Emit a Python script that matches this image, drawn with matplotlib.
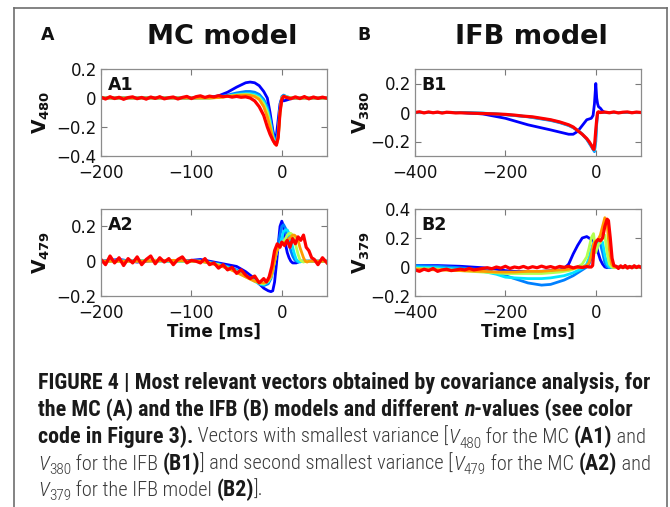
import matplotlib
matplotlib.use('Agg')
import matplotlib.pyplot as plt
from matplotlib.lines import Line2D
from matplotlib.font_manager import FontProperties
from matplotlib import font_manager as fm

plt.rcParams['font.family'] = ['DejaVu Sans']
plt.rcParams['mathtext.fontset'] = 'dejavusans'

W, H = 670, 507

# ---------------- data ----------------
colors = ['#0000ff', '#0080ff', '#00e5ff', '#b4ff50', '#ff9a00', '#ff0000']

# Panel A1 (MC, V480)
tA1 = [-200, -150, -100, -80, -70, -60, -50, -40, -35, -30, -25, -20, -16, -13, -10, -8, -6, -4, -2, 0, 2, 5, 10, 20, 30, 50]
blue_A1 = [0.0, 0.002, 0.0, 0.005, 0.015, 0.04, 0.075, 0.105, 0.11, 0.105, 0.085, 0.045, 0.0, -0.1, -0.22, -0.28, -0.26, -0.15, -0.04, 0.0, -0.02, -0.015, -0.005, 0.0, 0.0, 0.0]
azure_A1 = [0.0, 0.0, 0.0, 0.002, 0.008, 0.02, 0.035, 0.045, 0.045, 0.04, 0.025, -0.01, -0.06, -0.14, -0.24, -0.29, -0.3, -0.22, -0.07, 0.01, 0.02, 0.01, 0.0, 0.0, 0.0, 0.0]
cyan_A1 = [0.0, 0.0, 0.0, 0.0, 0.005, 0.015, 0.025, 0.03, 0.03, 0.025, 0.01, -0.025, -0.08, -0.16, -0.26, -0.3, -0.31, -0.25, -0.09, 0.0, 0.015, 0.01, 0.0, 0.0, 0.0, 0.0]
lime_A1 = [0.0, 0.0, 0.0, 0.0, 0.004, 0.012, 0.02, 0.025, 0.022, 0.015, 0.0, -0.04, -0.1, -0.18, -0.27, -0.31, -0.32, -0.27, -0.1, 0.0, 0.012, 0.008, 0.0, 0.0, 0.0, 0.0]
orange_A1 = [0.0, 0.0, 0.0, 0.0, 0.003, 0.01, 0.018, 0.02, 0.018, 0.01, -0.01, -0.06, -0.13, -0.2, -0.28, -0.315, -0.325, -0.28, -0.1, 0.0, 0.01, 0.005, 0.0, 0.0, 0.0, 0.0]
tR_A1 = [-200, -195, -190, -185, -180, -175, -170, -165, -160, -155, -150, -145, -140, -135, -130, -125, -120, -115, -110, -105,
         -100, -95, -90, -85, -80, -75, -70, -65, -60, -55, -50, -45, -40, -35, -30,
         -25, -20, -16, -13, -10, -8, -6, -4, -2, 0, 2, 5, 10, 15, 20, 25, 30, 35, 40, 45, 50]
red_A1 = [0.006, -0.007, 0.009, -0.004, 0.005, -0.009, 0.003, 0.008, -0.005, 0.004, -0.008, 0.007, -0.003, 0.009, -0.006, 0.002, 0.007, -0.007, 0.004, 0.011,
          -0.004, 0.009, 0.015, 0.004, 0.013, 0.007, 0.016, 0.009, 0.013, 0.006, 0.011, 0.005, 0.008, 0.0, -0.02,
          -0.06, -0.12, -0.2, -0.25, -0.29, -0.31, -0.325, -0.27, -0.1, -0.01, 0.012, 0.004, -0.005, 0.008, -0.004, 0.01, -0.006, 0.007, -0.003, 0.006, -0.002]

# Panel A2 (MC, V479)
tA2 = [-200, -180, -160, -140, -120, -100, -90, -80, -70, -60, -50, -40, -30, -25, -20, -15, -12, -10, -8, -6, -4, -2,
       0, 2, 4, 6, 8, 10, 12, 14, 16, 18, 20, 22, 24, 26, 28, 30, 32, 35, 40, 45, 50]
blue_A2 = [0.0, 0.01, -0.005, 0.005, 0.0, 0.005, 0.01, 0.0, -0.01, -0.02, -0.03, -0.06, -0.1,
           -0.13, -0.155, -0.17, -0.175, -0.17, -0.12, -0.02, 0.09, 0.2,
           0.23, 0.2, 0.1, 0.05, 0.02, 0.0, -0.01, -0.01, -0.01, -0.005, 0.0, 0.0, 0.0, 0.0, 0.0, 0.0, 0.0, 0.0, 0.0, 0.0, 0.0]
azure_A2 = [0.0, 0.005, 0.0, 0.005, 0.0, 0.0, 0.0, -0.005, -0.015, -0.03, -0.05, -0.08, -0.11,
            -0.13, -0.14, -0.13, -0.1, -0.06, 0.0, 0.06, 0.1, 0.15,
            0.2, 0.21, 0.19, 0.15, 0.1, 0.06, 0.03, 0.01, 0.0, -0.005, 0.0, 0.0, 0.0, 0.0, 0.0, 0.0, 0.0, 0.0, 0.0, 0.0, 0.0]
cyan_A2 = [0.0, 0.0, 0.005, 0.0, 0.0, 0.0, 0.0, -0.01, -0.02, -0.035, -0.055, -0.085, -0.115,
           -0.13, -0.135, -0.12, -0.09, -0.05, 0.0, 0.05, 0.08, 0.1,
           0.13, 0.17, 0.18, 0.18, 0.16, 0.12, 0.08, 0.04, 0.01, 0.0, -0.005, 0.0, 0.0, 0.0, 0.0, 0.0, 0.0, 0.0, 0.0, 0.0, 0.0]
lime_A2 = [0.0, 0.0, 0.0, 0.005, 0.0, 0.0, 0.0, -0.01, -0.02, -0.04, -0.06, -0.09, -0.115,
           -0.125, -0.13, -0.115, -0.09, -0.05, 0.0, 0.05, 0.08, 0.09,
           0.1, 0.11, 0.13, 0.15, 0.16, 0.16, 0.15, 0.12, 0.08, 0.04, 0.01, 0.0, -0.005, 0.0, 0.0, 0.0, 0.0, 0.0, 0.0, 0.0, 0.0]
orange_A2 = [0.0, 0.0, 0.0, 0.0, 0.005, 0.0, 0.0, -0.01, -0.025, -0.04, -0.065, -0.09, -0.115,
             -0.12, -0.125, -0.11, -0.085, -0.05, 0.0, 0.05, 0.08, 0.09,
             0.1, 0.1, 0.11, 0.12, 0.13, 0.14, 0.15, 0.15, 0.14, 0.12, 0.08, 0.05, 0.02, 0.0, -0.005, 0.0, 0.0, 0.0, 0.0, 0.0, 0.0]
tR_A2 = [-200, -195, -190, -185, -180, -175, -170, -165, -160, -155, -150, -145, -140, -135, -130, -125, -120, -115, -110, -105, -100,
         -95, -90, -85, -80, -75, -70, -65, -60, -55, -50, -45, -40, -35, -30, -25, -20,
         -17, -14, -11, -8, -5, -2, 0, 3, 6, 9, 12, 15, 18, 21, 24, 27, 30, 33, 36, 40, 45, 50]
red_A2 = [0.01, -0.02, 0.03, -0.01, 0.02, -0.025, 0.015, -0.01, 0.025, -0.02, 0.01, 0.03, -0.015, 0.02, -0.005, 0.015, -0.02, 0.01, 0.025, -0.01, 0.005,
          0.0, -0.01, 0.015, -0.02, -0.01, -0.04, -0.02, -0.05, -0.035, -0.07, -0.05, -0.08, -0.1, -0.085, -0.125, -0.1,
          -0.12, -0.09, -0.03, 0.06, 0.1, 0.08, 0.11, 0.09, 0.12, 0.08, 0.13, 0.1, 0.14, 0.12, 0.15, 0.08, 0.06, 0.02, 0.01, -0.02, 0.02, -0.01]

# Panel B1 (IFB, V380)
tB1 = [-400, -350, -300, -250, -200, -150, -100, -80, -60, -50, -40, -30, -20, -15, -10, -6, -3, 0, 2, 4, 6, 10, 15, 20, 40, 70, 100]
blue_B1 = [0.0, 0.0, 0.0, -0.01, -0.04, -0.085, -0.12, -0.135, -0.15, -0.15, -0.13, -0.09, -0.05, -0.045, -0.04, -0.02, 0.06,
           0.2, 0.1, 0.06, 0.04, 0.03, 0.01, 0.0, 0.0, 0.0, 0.0]
azure_B1 = [0.0, 0.0, 0.0, -0.005, -0.015, -0.03, -0.055, -0.07, -0.09, -0.105, -0.125, -0.15, -0.185, -0.21, -0.235, -0.255, -0.27,
            -0.2, -0.08, -0.01, 0.0, 0.0, 0.0, 0.0, 0.0, 0.0, 0.0]
cyan_B1 = [0.0, 0.0, 0.0, -0.004, -0.014, -0.028, -0.052, -0.067, -0.088, -0.103, -0.123, -0.148, -0.182, -0.205, -0.23, -0.25, -0.262,
           -0.16, -0.05, -0.005, 0.0, 0.0, 0.0, 0.0, 0.0, 0.0, 0.0]
tR_B1 = [-400, -390, -380, -370, -360, -350, -340, -330, -320, -310, -300,
         -280, -260, -240, -220, -200, -180, -160, -140, -120, -100, -80, -60,
         -50, -40, -30, -20, -15, -10, -6, -4, -2, 0, 2, 4, 6, 10,
         20, 30, 40, 50, 60, 70, 80, 90, 100]
red_B1 = [0.0, 0.005, -0.003, 0.004, -0.002, 0.003, -0.004, 0.002, 0.0, -0.003, -0.002,
          -0.004, -0.006, -0.008, -0.01, -0.013, -0.018, -0.025, -0.03, -0.04, -0.05, -0.065, -0.085,
          -0.1, -0.125, -0.15, -0.18, -0.2, -0.225, -0.25, -0.255, -0.2, -0.12, -0.05, 0.0, 0.005, 0.0,
          0.003, -0.002, 0.004, -0.003, 0.002, 0.004, -0.002, 0.003, 0.0]

# Panel B2 (IFB, V379)
tB2 = [-400, -350, -300, -250, -220, -200, -180, -150, -120, -100, -80, -70, -60, -50, -40, -30, -20, -15, -10, -5,
       0, 5, 10, 15, 20, 25, 30, 35, 40, 45, 50, 60, 70, 100]
blue_B2 = [0.01, 0.01, 0.005, -0.005, -0.015, -0.025, -0.03, -0.03, -0.03, -0.025,
           -0.02, -0.01, 0.02, 0.09, 0.15, 0.2, 0.21, 0.2, 0.19, 0.18,
           0.17, 0.1, 0.05, 0.02, 0.0, -0.005, 0.0, 0.0, 0.0, 0.0, 0.0, 0.0, 0.0, 0.0]
azure_B2 = [0.01, 0.005, -0.005, -0.02, -0.04, -0.06, -0.08, -0.11, -0.125, -0.12,
            -0.1, -0.09, -0.075, -0.06, -0.04, -0.02, 0.0, 0.02, 0.06, 0.12,
            0.15, 0.17, 0.16, 0.1, 0.03, 0.0, -0.005, 0.0, 0.0, 0.0, 0.0, 0.0, 0.0, 0.0]
cyan_B2 = [0.0, -0.005, -0.015, -0.03, -0.05, -0.07, -0.075, -0.08, -0.08, -0.075,
           -0.065, -0.06, -0.05, -0.04, -0.025, -0.01, 0.02, 0.06, 0.12, 0.17,
           0.13, 0.16, 0.19, 0.17, 0.08, 0.02, 0.0, 0.0, 0.0, 0.0, 0.0, 0.0, 0.0, 0.0]
lime_B2 = [-0.01, -0.015, -0.025, -0.035, -0.04, -0.045, -0.045, -0.045, -0.045, -0.04,
           -0.035, -0.03, -0.025, -0.015, 0.0, 0.02, 0.07, 0.13, 0.2, 0.23,
           0.1, 0.15, 0.17, 0.2, 0.22, 0.1, 0.02, 0.0, -0.005, 0.0, 0.0, 0.0, 0.0, 0.0]
orange_B2 = [-0.015, -0.02, -0.025, -0.03, -0.035, -0.035, -0.035, -0.03, -0.03, -0.025,
             -0.02, -0.02, -0.015, -0.01, -0.005, 0.0, 0.01, 0.03, 0.08, 0.16,
             0.18, 0.19, 0.22, 0.28, 0.34, 0.3, 0.12, 0.02, 0.0, 0.0, 0.0, 0.0, 0.0, 0.0]
tR_B2 = [-400, -390, -380, -370, -360, -350, -340, -330, -320, -310, -300, -290, -280, -270, -260, -250,
         -240, -230, -220, -210, -200, -190, -180, -170, -160, -150, -140, -130, -120, -110, -100, -90, -80, -70, -60, -50, -40, -30, -20,
         -15, -10, -7, -4, 0, 5, 10, 15, 20, 25, 28, 32, 36, 40,
         45, 50, 55, 60, 65, 70, 75, 80, 85, 90, 95, 100]
red_B2 = [-0.02, -0.03, -0.015, -0.025, -0.01, -0.03, -0.02, -0.015, -0.025, -0.02, -0.015, -0.02, -0.01, -0.02, -0.015, -0.01,
          -0.005, -0.012, 0.0, -0.008, 0.005, -0.01, 0.0, -0.006, 0.004, -0.008, 0.002, -0.005, 0.006, -0.004, 0.003, -0.007, 0.004, -0.002, 0.005, -0.006, 0.002, -0.004, 0.003,
          0.0, 0.0, 0.01, 0.12, 0.17, 0.19, 0.18, 0.2, 0.28, 0.33, 0.32, 0.2, 0.06, 0.01,
          0.005, -0.01, 0.008, -0.005, 0.01, -0.008, 0.004, -0.006, 0.009, -0.004, 0.006, -0.003]

# tick labels
xt_A = [-200, -100, 0]
xt_B = [-400, -200, 0]
yt_A1 = [-0.4, -0.2, 0, 0.2]
yl_A1 = ['\u22120.4', '\u22120.2', '0', '0.2']
yt_A2 = [-0.2, 0, 0.2]
yl_A2 = ['\u22120.2', '0', '0.2']
yt_B1 = [-0.2, 0, 0.2]
yl_B1 = ['\u22120.2', '0', '0.2']
yt_B2 = [-0.2, 0, 0.2, 0.4]
yl_B2 = ['\u22120.2', '0', '0.2', '0.4']

# ---------------- figure ----------------
CHART_FONT = 'DejaVu Sans'
fig = plt.figure(figsize=(W / 100, H / 100), dpi=100)
fig.patch.set_facecolor('white')


def px_axes(l, t, r, b):
    return [l / W, 1 - b / H, (r - l) / W, (b - t) / H]


def make_panel(rect, curves, xlim, ylim, xt, yt, yl, label, ylab, ylab_x, xlabel):
    ax = fig.add_axes(px_axes(*rect))
    n = len(curves)
    for i, (tt, yy) in enumerate(curves):
        last = (i == n - 1)
        ax.plot(tt, yy, color=colors[-1] if last else colors[i],
                lw=2.3 if last else 2.0, solid_joinstyle='round')
    ax.set_xlim(*xlim)
    ax.set_ylim(*ylim)
    ax.set_xticks(xt)
    ax.set_xticklabels([('\u2212' + str(-v)) if v < 0 else str(v) for v in xt],
                       fontfamily=CHART_FONT, fontsize=12, color='#111111')
    ax.set_yticks(yt)
    ax.set_yticklabels(yl, fontfamily=CHART_FONT, fontsize=12, color='#111111')
    ax.tick_params(direction='in', top=True, right=True, length=4, width=0.8, color='#7a7a7a')
    ax.tick_params(axis='x', pad=6)
    ax.tick_params(axis='y', pad=3)
    for s in ax.spines.values():
        s.set_color('#8c8c8c')
        s.set_linewidth(0.9)
    ax.text(0.03, 0.82, label, transform=ax.transAxes, fontsize=12.5, fontfamily=CHART_FONT,
            fontweight='bold', va='center', ha='left', color='#111111')
    ax.set_ylabel(ylab, fontsize=13.5, color='#111111')
    ax.yaxis.set_label_coords(ylab_x, 0.5)
    if xlabel:
        ax.set_xlabel('Time [ms]', fontsize=12, fontweight='bold', fontfamily=CHART_FONT,
                      color='#111111', labelpad=0)
    return ax


make_panel((101, 69, 327, 156),
           [(tA1, blue_A1), (tA1, azure_A1), (tA1, cyan_A1), (tA1, lime_A1), (tA1, orange_A1), (tR_A1, red_A1)],
           (-200, 50), (-0.4, 0.2), xt_A, yt_A1, yl_A1, 'A1', r'$\mathbf{V}_{\mathbf{480}}$', -0.215, False)
make_panel((101, 209, 327, 296),
           [(tA2, blue_A2), (tA2, azure_A2), (tA2, cyan_A2), (tA2, lime_A2), (tA2, orange_A2), (tR_A2, red_A2)],
           (-200, 50), (-0.2, 0.3), xt_A, yt_A2, yl_A2, 'A2', r'$\mathbf{V}_{\mathbf{479}}$', -0.215, True)
make_panel((415, 69, 641, 156),
           [(tB1, blue_B1), (tB1, azure_B1), (tB1, cyan_B1), (tR_B1, red_B1)],
           (-400, 100), (-0.3, 0.3), xt_B, yt_B1, yl_B1, 'B1', r'$\mathbf{V}_{\mathbf{380}}$', -0.19, False)
make_panel((415, 209, 641, 296),
           [(tB2, blue_B2), (tB2, azure_B2), (tB2, cyan_B2), (tB2, lime_B2), (tB2, orange_B2), (tR_B2, red_B2)],
           (-400, 100), (-0.2, 0.4), xt_B, yt_B2, yl_B2, 'B2', r'$\mathbf{V}_{\mathbf{379}}$', -0.19, True)

# titles and panel letters
for x, s in ((222, 'MC model'), (531, 'IFB model')):
    fig.text(x / W, 1 - 37 / H, s, fontsize=19.5, fontweight='bold', fontfamily=CHART_FONT,
             ha='center', va='center', color='#111111')
for x, s in ((48, 'A'), (364, 'B')):
    fig.text(x / W, 1 - 35 / H, s, fontsize=12.5, fontweight='bold', fontfamily=CHART_FONT,
             ha='center', va='center', color='#111111')

# frame
fc = '#6e6e6e'
fig.add_artist(Line2D([14 / W, 14 / W], [0, 1 - 8 / H], transform=fig.transFigure, color=fc, lw=1.2))
fig.add_artist(Line2D([14 / W, 667 / W], [1 - 8 / H, 1 - 8 / H], transform=fig.transFigure, color=fc, lw=1.2))
fig.add_artist(Line2D([667 / W, 667 / W], [0, 1 - 8 / H], transform=fig.transFigure, color=fc, lw=1.2))


# caption
def pick_font(cands):
    for c in cands:
        try:
            fm.findfont(FontProperties(family=c), fallback_to_default=False)
            return c
        except Exception:
            pass
    return 'DejaVu Sans'


cap_main = pick_font(['Liberation Sans Narrow', 'Roboto Condensed', 'Open Sans Condensed', 'Liberation Sans'])
cap_family = [cap_main, 'DejaVu Sans']
renderer = fig.canvas.get_renderer()
caption_lines = [
    [("FIGURE 4 | Most relevant vectors obtained by covariance analysis, for", 'bold', 'normal', False)],
    [("the MC (A) and the IFB (B) models and different ", 'bold', 'normal', False), ("n", 'bold', 'italic', False),
     ("-values (see color", 'bold', 'normal', False)],
    [("code in Figure 3).", 'bold', 'normal', False), (" Vectors with smallest variance [", 'light', 'normal', False),
     ("V", 'light', 'italic', False), ("480", 'light', 'normal', True), (" for the MC ", 'light', 'normal', False),
     ("(A1)", 'bold', 'normal', False), (" and", 'light', 'normal', False)],
    [("V", 'light', 'italic', False), ("380", 'light', 'normal', True), (" for the IFB ", 'light', 'normal', False),
     ("(B1)", 'bold', 'normal', False), ("] and second smallest variance [", 'light', 'normal', False),
     ("V", 'light', 'italic', False), ("479", 'light', 'normal', True), (" for the MC ", 'light', 'normal', False),
     ("(A2)", 'bold', 'normal', False), (" and", 'light', 'normal', False)],
    [("V", 'light', 'italic', False), ("379", 'light', 'normal', True), (" for the IFB model ", 'light', 'normal', False),
     ("(B2)", 'bold', 'normal', False), ("].", 'light', 'normal', False)],
]


def fprop(weight, style, size):
    return FontProperties(family=cap_family, weight=weight, style=style, size=size)


def text_w(s, prop):
    w1, _, _ = renderer.get_text_width_height_descent('|' + s + '|', prop, ismath=False)
    w0, _, _ = renderer.get_text_width_height_descent('||', prop, ismath=False)
    return w1 - w0


base = 13.0
size_b = base * 607.0 / text_w(caption_lines[0][0][0], fprop('bold', 'normal', base))
# line 4 is mostly regular text: fit it to 610 px
wb = 0.0
wn = 0.0
for s, wt, st, sub in caption_lines[3]:
    if wt == 'bold':
        wb += text_w(s, fprop(wt, st, size_b))
    else:
        wn += text_w(s, fprop(wt, st, base * (0.75 if sub else 1.0)))
size_n = min(size_b, base * (610.0 - wb) / wn)

x0 = 38.0
baselines = [389, 416, 443, 470, 496]
for line, yb in zip(caption_lines, baselines):
    x = x0
    for s, wt, st, sub in line:
        sz = (size_b if wt == 'bold' else size_n) * (0.75 if sub else 1.0)
        prop = fprop(wt, st, sz)
        yy = yb + (4.5 if sub else 0)
        col = '#1a1a1a' if wt == 'bold' else '#3a3a3a'
        fig.text(x / W, 1 - yy / H, s, fontproperties=prop, ha='left', va='baseline', color=col)
        x += text_w(s, prop)

fig.savefig('out.png', dpi=100)
